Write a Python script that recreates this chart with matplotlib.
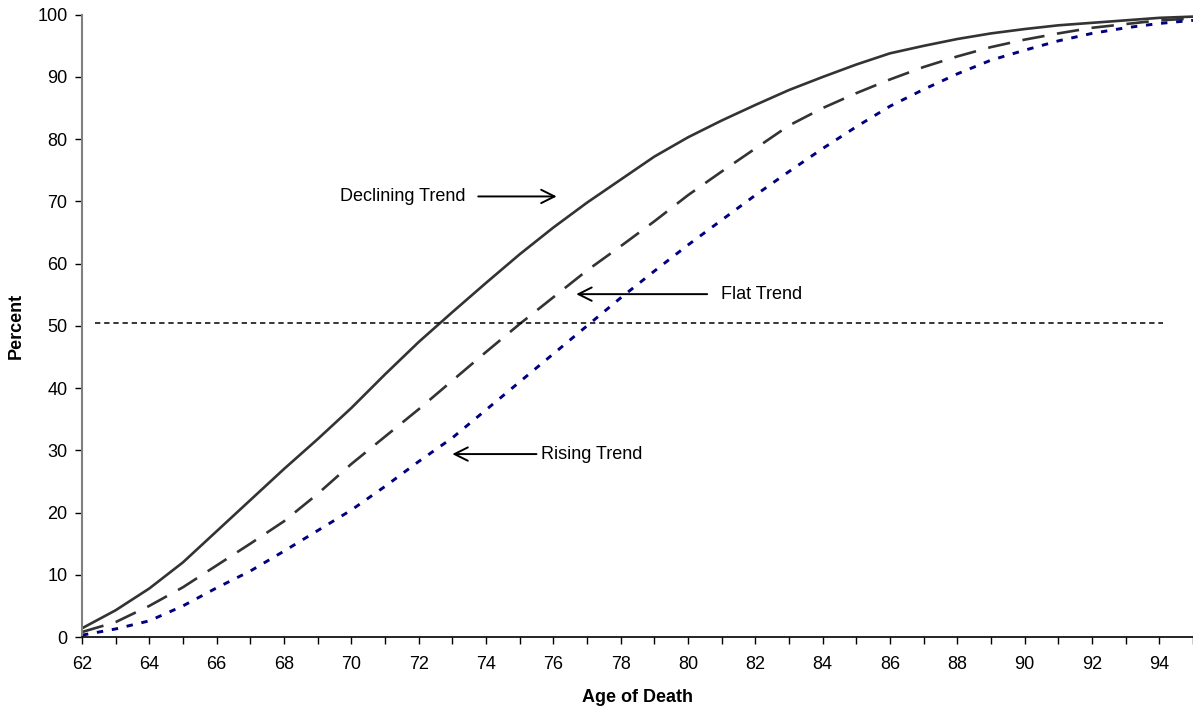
import matplotlib
matplotlib.use('Agg')
import matplotlib.pyplot as plt

plt.rcParams['font.family'] = ['Liberation Sans', 'DejaVu Sans']

ages = list(range(62, 96))

declining = [1.4, 4.3, 7.8, 12.0, 17.0, 22.0, 27.0, 31.8, 36.8, 42.2,
             47.4, 52.2, 56.9, 61.5, 65.8, 69.8, 73.5, 77.2, 80.3, 83.0,
             85.5, 87.9, 90.0, 92.0, 93.8, 95.0, 96.1, 97.0, 97.7, 98.3,
             98.7, 99.1, 99.5, 99.7]

flat = [0.8, 2.4, 5.0, 8.0, 11.5, 15.0, 18.6, 23.0, 27.8, 32.2,
        36.6, 41.2, 45.8, 50.3, 54.6, 58.9, 62.8, 66.8, 71.0, 74.8,
        78.5, 82.2, 85.0, 87.4, 89.6, 91.6, 93.3, 94.8, 96.0, 97.0,
        97.9, 98.5, 99.1, 99.4]

rising = [0.3, 1.3, 2.6, 5.0, 7.9, 10.6, 13.8, 17.1, 20.4, 24.2,
          28.2, 32.0, 36.5, 41.0, 45.5, 50.0, 54.5, 58.8, 63.0, 67.0,
          71.0, 74.8, 78.5, 82.0, 85.3, 88.0, 90.5, 92.7, 94.3, 95.8,
          97.0, 97.9, 98.6, 99.1]

median_level = 50.4

# label text, text position, arrow tail, arrow tip, alignment
notes = [
    ('Declining Trend', (73.38, 70.8), (73.77, 70.8), (76.1, 70.8), 'right'),
    ('Flat Trend', (80.98, 55.1), (80.57, 55.1), (76.68, 55.1), 'left'),
    ('Rising Trend', (75.62, 29.4), (75.5, 29.4), (73.0, 29.4), 'left'),
]

fig = plt.figure(figsize=(11.93, 7.12), dpi=100)
ax = fig.add_axes([0.0687, 0.1053, 0.9313, 0.874])

ax.plot(ages, declining, color='#333333', lw=1.9, solid_capstyle='butt')
ax.plot(ages, flat, color='#333333', lw=1.9, dashes=(8.5, 4.8))
ax.plot(ages, rising, color='#000080', lw=2.1, dashes=(2.2, 3.0))
ax.plot([62.4, 94.1], [median_level, median_level], color='black', lw=1.1,
        dashes=(3.5, 2.5))

for label, text_xy, tail, tip, ha in notes:
    ax.annotate('', xy=tip, xytext=tail,
                arrowprops=dict(arrowstyle='->', color='black', lw=1.4,
                                mutation_scale=24, shrinkA=0, shrinkB=0))
    ax.text(text_xy[0], text_xy[1], label, ha=ha, va='center', fontsize=13)

ax.set_xlim(62, 94.95)
ax.set_ylim(0, 100)
ax.set_xticks(range(62, 96), minor=True)
ax.set_xticks(range(62, 95, 2))
ax.set_yticks(range(0, 101, 10))
ax.tick_params(axis='both', which='both', labelsize=13, length=5, width=1)
ax.tick_params(axis='x', which='both', pad=9)
ax.tick_params(axis='y', pad=5.5)

for side in ('top', 'right'):
    ax.spines[side].set_visible(False)
ax.spines['left'].set_color('#808080')
ax.spines['left'].set_linewidth(1.5)
ax.spines['bottom'].set_color('black')
ax.spines['bottom'].set_linewidth(1.2)

ax.set_xlabel('Age of Death', fontsize=13, fontweight='bold')
ax.set_ylabel('Percent', fontsize=13, fontweight='bold')
ax.xaxis.set_label_coords(0.5, -0.083)
ax.yaxis.set_label_coords(-0.0513, 0.5)

fig.savefig('out.png', dpi=100)
